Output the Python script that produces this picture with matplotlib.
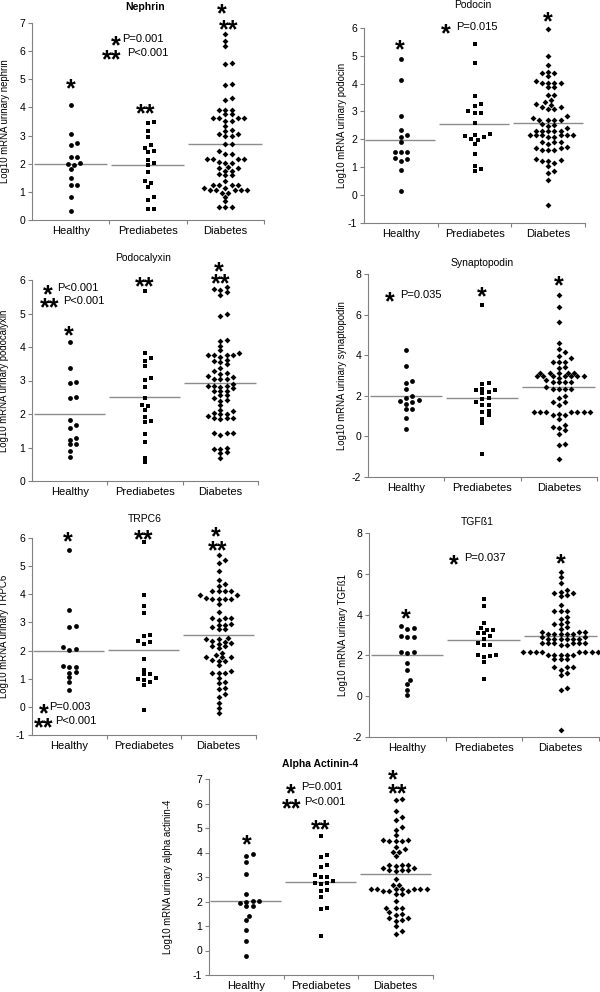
import numpy as np
import matplotlib
matplotlib.use("Agg")
import matplotlib.pyplot as plt

plt.rcParams['font.family'] = ['Liberation Sans', 'DejaVu Sans']
plt.rcParams['axes.unicode_minus'] = False

groups = ['Healthy', 'Prediabetes', 'Diabetes']

# ---------------- data (log10 mRNA values) ----------------
nephrin_healthy = [4.08, 3.07, 2.66, 2.74, 2.25, 2.25, 1.99, 1.94, 2.02, 1.80, 1.48, 1.23, 1.23, 0.83, 0.33]
nephrin_prediabetes = [3.49, 3.44, 3.17, 2.94, 2.66, 2.46, 2.42, 2.55, 2.13, 2.02, 1.97, 1.71, 1.31, 1.38,
                       1.18, 0.80, 0.71, 0.40, 0.39]
nephrin_diabetes = [6.60, 6.35, 6.19, 5.59, 5.53, 4.82, 4.80, 4.35, 4.27, 3.90, 3.90, 3.90, 3.75, 3.75,
                    3.64, 3.64, 3.64, 3.64, 3.52, 3.52, 3.35, 3.21, 3.17, 3.07, 3.07, 2.98, 2.98, 2.70,
                    2.70, 2.46, 2.36, 2.36, 2.15, 2.15, 2.15, 2.15, 2.07, 2.03, 2.03, 1.89, 1.83, 1.83,
                    1.75, 1.75, 1.65, 1.60, 1.60, 1.40, 1.24, 1.24, 1.24, 1.24, 1.15, 1.15, 1.06, 1.06,
                    1.06, 1.06, 1.06, 0.97, 0.97, 0.83, 0.66, 0.47, 0.47, 0.47]
nephrin_medians = [2.00, 1.97, 2.70]

podocin_healthy = [4.89, 4.13, 2.84, 2.34, 2.16, 2.07, 1.89, 1.53, 1.53, 1.53, 1.33, 1.29, 1.21, 0.91, 0.13]
podocin_prediabetes = [5.40, 4.72, 3.56, 3.27, 3.20, 3.02, 2.94, 2.94, 2.58, 2.20, 2.16, 2.12, 2.10, 2.00,
                       1.98, 1.84, 1.48, 1.05, 0.93, 0.88]
podocin_diabetes = [5.96, 4.99, 4.66, 4.43, 4.39, 4.39, 4.27, 4.09, 4.03, 4.03, 4.03, 4.03, 3.87, 3.87,
                    3.60, 3.60, 3.41, 3.35, 3.27, 3.24, 3.17, 3.15, 3.10, 3.10, 2.82, 2.76, 2.70, 2.70,
                    2.70, 2.70, 2.56, 2.52, 2.48, 2.40, 2.31, 2.31, 2.31, 2.31, 2.28, 2.16, 2.16, 2.16,
                    2.16, 2.16, 2.16, 2.10, 2.10, 1.92, 1.92, 1.92, 1.84, 1.74, 1.68, 1.68, 1.62, 1.62,
                    1.62, 1.29, 1.27, 1.21, 1.21, 1.15, 1.03, 0.88, 0.79, 0.55, -0.34]
podocin_medians = [1.98, 2.55, 2.60]

podocalyxin_healthy = [4.16, 3.36, 2.97, 2.92, 2.52, 2.47, 1.82, 1.67, 1.59, 1.29, 1.22, 1.09, 1.09, 0.90, 0.73]
podocalyxin_prediabetes = [5.68, 3.81, 3.66, 3.58, 3.43, 3.06, 3.01, 2.82, 2.49, 2.27, 2.23, 2.12, 1.90,
                           1.80, 1.75, 1.40, 1.15, 0.68, 0.56]
podocalyxin_diabetes = [5.78, 5.72, 5.70, 5.65, 5.55, 4.98, 4.94, 4.21, 4.18, 4.04, 3.91, 3.81, 3.76, 3.76,
                        3.76, 3.76, 3.71, 3.61, 3.58, 3.54, 3.48, 3.38, 3.28, 3.21, 3.18, 3.13, 3.11, 3.03,
                        3.03, 3.03, 2.89, 2.85, 2.85, 2.85, 2.82, 2.77, 2.70, 2.70, 2.70, 2.57, 2.57, 2.49,
                        2.42, 2.39, 2.27, 2.12, 2.09, 2.02, 1.99, 1.99, 1.95, 1.87, 1.87, 1.87, 1.85, 1.44,
                        1.44, 1.44, 1.37, 1.00, 0.96, 0.95, 0.86, 0.83, 0.70]
podocalyxin_medians = [2.00, 2.50, 2.93]

synaptopodin_healthy = [4.26, 3.49, 2.73, 2.61, 2.32, 2.00, 1.87, 1.79, 1.75, 1.71, 1.62, 1.34, 1.34, 0.92, 0.37]
synaptopodin_prediabetes = [6.48, 2.65, 2.56, 2.33, 2.28, 2.28, 2.20, 2.12, 1.87, 1.84, 1.71, 1.57, 1.57,
                            1.26, 1.21, 1.05, 0.88, 0.64, -0.88]
synaptopodin_diabetes = [6.98, 6.35, 5.63, 4.59, 4.31, 4.14, 3.98, 3.85, 3.68, 3.68, 3.68, 3.44, 3.35, 3.14,
                         3.14, 3.14, 3.14, 3.14, 2.96, 2.96, 2.96, 2.96, 2.96, 2.96, 2.96, 2.89, 2.78, 2.69,
                         2.69, 2.69, 2.69, 2.45, 2.33, 2.33, 2.33, 2.33, 2.00, 1.90, 1.70, 1.70, 1.57, 1.21,
                         1.21, 1.21, 1.21, 1.21, 1.21, 1.21, 1.08, 1.05, 1.05, 0.88, 0.55, 0.47, 0.39, 0.31,
                         0.14, -0.35, -0.44, -1.09]
synaptopodin_medians = [1.98, 1.88, 2.42]

trpc6_healthy = [5.56, 3.43, 2.87, 2.84, 2.13, 2.04, 2.02, 1.45, 1.42, 1.42, 1.25, 1.22, 1.05, 0.87, 0.60]
trpc6_prediabetes = [5.86, 3.97, 3.58, 3.34, 2.55, 2.52, 2.35, 2.31, 2.23, 1.70, 1.31, 1.16, 1.16, 1.01,
                     0.98, 0.95, 0.89, 0.77, -0.11]
trpc6_diabetes = [5.39, 5.23, 5.11, 4.83, 4.52, 4.38, 4.30, 4.11, 4.11, 4.11, 4.11, 3.97, 3.97, 3.88, 3.85,
                  3.85, 3.85, 3.85, 3.67, 3.37, 3.17, 3.16, 3.14, 3.08, 2.96, 2.90, 2.90, 2.84, 2.75, 2.75,
                  2.45, 2.41, 2.41, 2.35, 2.31, 2.28, 2.23, 2.16, 2.16, 2.08, 1.93, 1.84, 1.78, 1.78, 1.76,
                  1.66, 1.64, 1.64, 1.48, 1.28, 1.21, 1.19, 1.19, 1.01, 0.87, 0.83, 0.66, 0.63, 0.45, 0.34,
                  0.12, -0.05, -0.23]
trpc6_medians = [2.00, 2.03, 2.55]

tgfb1_healthy = [3.44, 3.33, 3.28, 2.95, 2.92, 2.89, 2.18, 2.18, 2.10, 1.64, 1.28, 0.79, 0.62, 0.30, 0.05]
tgfb1_prediabetes = [4.75, 4.43, 3.57, 3.33, 3.25, 3.25, 3.11, 3.08, 2.95, 2.79, 2.59, 2.51, 2.51, 2.02,
                     2.02, 1.98, 1.93, 1.66, 0.84]
tgfb1_diabetes = [6.11, 5.84, 5.54, 5.21, 5.13, 5.05, 5.05, 4.97, 4.89, 4.48, 4.20, 4.20, 4.20, 3.90, 3.79,
                  3.66, 3.54, 3.54, 3.38, 3.28, 3.16, 3.16, 3.16, 3.05, 3.05, 3.05, 3.05, 3.05, 2.92, 2.92,
                  2.79, 2.79, 2.79, 2.79, 2.79, 2.79, 2.59, 2.59, 2.59, 2.59, 2.59, 2.59, 2.51, 2.51, 2.18,
                  2.18, 2.18, 2.18, 2.18, 2.18, 2.18, 2.18, 2.02, 2.02, 2.02, 2.02, 2.02, 1.80, 1.80, 1.80,
                  1.44, 1.44, 1.44, 1.28, 1.15, 1.03, 0.38, 0.30, -1.64]
tgfb1_medians = [2.00, 2.77, 2.93]

actinin_healthy = [3.94, 3.84, 3.60, 3.12, 2.31, 2.03, 2.01, 1.97, 1.94, 1.80, 1.80, 1.42, 1.26, 0.82,
                   0.37, -0.21]
actinin_prediabetes = [4.66, 3.88, 3.82, 3.50, 3.39, 3.07, 3.00, 3.00, 2.82, 2.76, 2.76, 2.73, 2.46, 2.42,
                       2.18, 1.73, 1.71, 0.61]
actinin_diabetes = [6.18, 6.13, 5.71, 5.44, 5.31, 5.04, 4.90, 4.73, 4.52, 4.52, 4.46, 4.46, 4.46, 4.22,
                    4.14, 4.01, 4.01, 3.85, 3.50, 3.50, 3.50, 3.44, 3.37, 3.37, 3.30, 3.30, 3.30, 3.26,
                    2.92, 2.66, 2.66, 2.51, 2.51, 2.51, 2.51, 2.51, 2.51, 2.51, 2.41, 2.41, 2.41, 2.31,
                    2.31, 2.01, 1.73, 1.73, 1.73, 1.57, 1.50, 1.46, 1.33, 1.33, 1.26, 1.19, 0.99, 0.78, 0.67]
actinin_medians = [2.03, 2.80, 3.12]

# ---------------- layout ----------------
W, H = 600, 992
fig = plt.figure(figsize=(W / 100, H / 100), dpi=100)

AX_COL = '#808080'
MED_COL = '#8c8c8c'
markers = ['o', 's', 'D']
msizes = [12, 10, 9]
STAR_FS = 18


def swarm(vals, xpu, ypu, dx=6.2, dy=4.0):
    """Simple beeswarm: offsets (in data x units) computed from the values."""
    vals = np.asarray(vals, float)
    order = np.argsort(vals, kind='stable')
    cand = [0.0]
    for k in range(1, 30):
        cand += [k * 0.5, -k * 0.5]
    px, py = [], []
    offs = np.zeros(len(vals))
    for i in order:
        y = vals[i] * ypu
        for c in cand:
            x = c * dx
            ok = True
            for qx, qy in zip(px, py):
                if ((x - qx) / dx) ** 2 + ((y - qy) / dy) ** 2 < 1 - 1e-9:
                    ok = False
                    break
            if ok:
                break
        px.append(x)
        py.append(y)
        offs[i] = x / xpu
    return offs


def stars(ax, x, y, n):
    ax.annotate('*' * n, (x, y), xytext=(0, -0.58 * STAR_FS), textcoords='offset points',
                ha='center', va='baseline', fontsize=STAR_FS, fontweight='bold',
                annotation_clip=False)


def ptext(ax, x, y, s):
    ax.text(x, y, s, ha='left', va='center', fontsize=8, clip_on=False)


panels = [
    dict(title='Nephrin', bold=True, ylabel='Log10 mRNA urinary nephrin', rect=(32, 23, 264, 220),
         ylim=(0, 7), yticks=range(0, 8), labx=27,
         data=[nephrin_healthy, nephrin_prediabetes, nephrin_diabetes], med=nephrin_medians,
         tpos=(1.46, 7.57),
         stars=[(0.5, 4.91, 1), (1.47, 4.02, 2), (2.46, 7.58, 1), (2.54, 7.0, 2), (1.08, 6.44, 1), (1.03, 5.94, 2)],
         texts=[(1.17, 6.44, 'P=0.001'), (1.23, 5.94, 'P<0.001')]),
    dict(title='Podocin', bold=False, ylabel='Log10 mRNA urinary podocin', rect=(364, 27.7, 585, 223),
         ylim=(-1, 6), yticks=range(-1, 7), labx=22,
         data=[podocin_healthy, podocin_prediabetes, podocin_diabetes], med=podocin_medians,
         tpos=(1.48, 6.81),
         stars=[(0.49, 5.45, 1), (1.11, 6.03, 1), (2.5, 6.45, 1)],
         texts=[(1.25, 6.03, 'P=0.015')]),
    dict(title='Podocalyxin', bold=False, ylabel='Log10 mRNA urinary podocalyxin', rect=(32, 280, 258, 481),
         ylim=(0, 6), yticks=range(0, 7), labx=28,
         data=[podocalyxin_healthy, podocalyxin_prediabetes, podocalyxin_diabetes], med=podocalyxin_medians,
         tpos=(1.47, 6.66),
         stars=[(0.21, 5.76, 1), (0.24, 5.37, 2), (0.49, 4.54, 1), (1.49, 6.0, 2), (2.48, 6.45, 1), (2.5, 6.09, 2)],
         texts=[(0.34, 5.76, 'P<0.001'), (0.41, 5.37, 'P<0.001')]),
    dict(title='Synaptopodin', bold=False, ylabel='Log10 mRNA urinary synaptopodin', rect=(368, 274, 597, 477),
         ylim=(-2, 8), yticks=range(-2, 9, 2), labx=26,
         data=[synaptopodin_healthy, synaptopodin_prediabetes, synaptopodin_diabetes], med=synaptopodin_medians,
         tpos=(1.49, 8.54),
         stars=[(0.28, 6.97, 1), (1.49, 7.21, 1), (2.5, 7.75, 1)],
         texts=[(0.42, 6.97, 'P=0.035')]),
    dict(title='TRPC6', bold=False, ylabel='Log10 mRNA urinary TRPC6', rect=(32, 538, 256, 735),
         ylim=(-1, 6), yticks=range(-1, 7), labx=28,
         data=[trpc6_healthy, trpc6_prediabetes, trpc6_diabetes], med=trpc6_medians,
         tpos=(1.51, 6.68),
         stars=[(0.48, 6.1, 1), (1.49, 6.2, 2), (2.46, 6.3, 1), (2.49, 5.78, 2), (0.16, -0.01, 1), (0.16, -0.51, 2)],
         texts=[(0.23, -0.01, 'P=0.003'), (0.31, -0.51, 'P<0.001')]),
    dict(title='TGF\u00df1', bold=False, ylabel='Log10 mRNA urinary TGF\u00df1', rect=(369, 533, 599, 737),
         ylim=(-2, 8), yticks=range(-2, 9, 2), labx=26,
         data=[tgfb1_healthy, tgfb1_prediabetes, tgfb1_diabetes], med=tgfb1_medians,
         tpos=(1.41, 8.54),
         stars=[(0.48, 4.13, 1), (1.11, 6.77, 1), (2.5, 6.82, 1)],
         texts=[(1.24, 6.77, 'P=0.037')]),
    dict(title='Alpha Actinin-4', bold=True, ylabel='Log10 mRNA urinary alpha actinin-4', rect=(209, 779, 433, 975),
         ylim=(-1, 7), yticks=range(-1, 8), labx=41,
         data=[actinin_healthy, actinin_prediabetes, actinin_diabetes], med=actinin_medians,
         tpos=(1.49, 7.61),
         stars=[(0.51, 4.59, 1), (1.10, 6.67, 1), (1.11, 6.06, 2), (1.5, 5.2, 2), (2.46, 7.24, 1), (2.53, 6.67, 2)],
         texts=[(1.23, 6.67, 'P=0.001'), (1.27, 6.06, 'P<0.001')]),
]

for p in panels:
    L, T, R, B = p['rect']
    ax = fig.add_axes([L / W, 1 - B / H, (R - L) / W, (B - T) / H])
    y0, y1 = p['ylim']
    xpu = (R - L) / 3.0
    ypu = (B - T) / (y1 - y0)
    ax.set_xlim(0, 3)
    ax.set_ylim(y0, y1)
    for spine in ['top', 'right']:
        ax.spines[spine].set_visible(False)
    for spine in ['left', 'bottom']:
        ax.spines[spine].set_color(AX_COL)
        ax.spines[spine].set_linewidth(0.8)

    for gi, vals in enumerate(p['data']):
        offs = swarm(vals, xpu, ypu)
        ax.scatter(gi + 0.5 + offs, vals, marker=markers[gi], s=msizes[gi], color='black',
                   linewidths=0, clip_on=False, zorder=3)
        ax.plot([gi + 0.02, gi + 0.97], [p['med'][gi]] * 2, color=MED_COL, lw=1.0,
                solid_capstyle='butt', clip_on=False, zorder=2)

    ax.set_yticks(list(p['yticks']))
    ax.tick_params(axis='y', direction='out', length=3, width=0.8, color=AX_COL,
                   labelsize=7.5, pad=2)
    ax.set_xticks([1, 2, 3])
    ax.set_xticklabels([])
    ax.tick_params(axis='x', which='major', direction='out', length=3, width=0.8, color=AX_COL)
    ax.set_xticks([0.5, 1.5, 2.5], minor=True)
    ax.set_xticklabels(groups, minor=True)
    ax.tick_params(axis='x', which='minor', length=0, labelsize=8, pad=4)

    ax.set_ylabel(p['ylabel'], fontsize=6.9, va='center')
    ax.yaxis.set_label_coords(-p['labx'] / (R - L), 0.5)

    ax.text(p['tpos'][0], p['tpos'][1], p['title'], ha='center', va='center', fontsize=7.5,
            fontweight='bold' if p['bold'] else 'normal', clip_on=False)
    for (sx, sy, n) in p['stars']:
        stars(ax, sx, sy, n)
    for (tx, ty, s) in p['texts']:
        ptext(ax, tx, ty, s)

fig.savefig('out.png', dpi=100)
